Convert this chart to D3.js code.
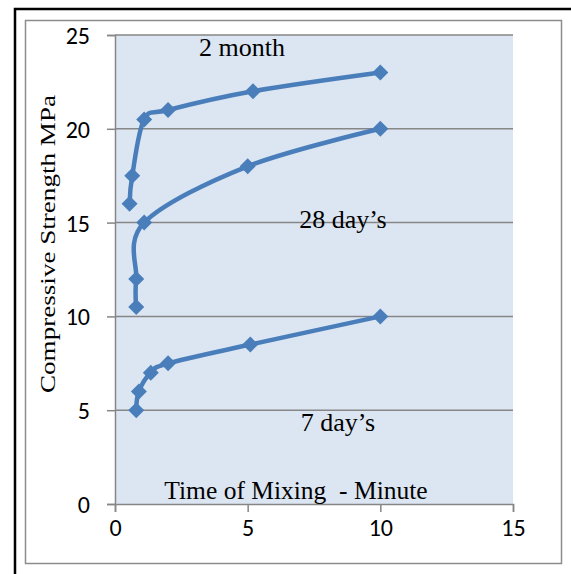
<!DOCTYPE html>
<html>
<head>
<meta charset="utf-8">
<script src="https://cdn.jsdelivr.net/npm/d3@7"></script>
<style>
  body { margin: 0; background: #fff; }
  svg { display: block; }
</style>
</head>
<body>
<script>
(function (d3) {

  'use strict'
  const w = 571
  const h = 574

  // data
  const month2X = [0.55, 0.65, 1.1, 2.0, 5.2, 10]
  const month2Y = [16.0, 17.5, 20.5, 21.0, 22.0, 23.0]
  const day28X = [0.8, 0.8, 1.1, 5.0, 10]
  const day28Y = [10.5, 12.0, 15.0, 18.0, 20.0]
  const day7X = [0.8, 0.9, 1.35, 2.0, 5.1, 10]
  const day7Y = [5.0, 6.0, 7.0, 7.5, 8.5, 10.0]
  const xTicks = [0, 5, 10, 15]
  const yTicks = [0, 5, 10, 15, 20, 25]

  const series = [
    { name: '2 month', x: month2X, y: month2Y },
    { name: '28 day\u2019s', x: day28X, y: day28Y },
    { name: '7 day\u2019s', x: day7X, y: day7Y }
  ]

  const plot = { left: 115, top: 35, right: 513, bottom: 504 }

  const x = d3.scaleLinear().domain([0, 15]).range([plot.left, plot.right])
  const y = d3.scaleLinear().domain([0, 25]).range([plot.bottom, plot.top])

  const svg = d3.select('body').append('svg')
    .attr('width', w)
    .attr('height', h)

  // outer black frame
  svg.append('rect')
    .attr('x', 15).attr('y', 9)
    .attr('width', 600).attr('height', 600)
    .attr('fill', 'none')
    .attr('stroke', '#000')
    .attr('stroke-width', 2.5)

  // chart area border
  svg.append('rect')
    .attr('x', 25.5).attr('y', 20.5)
    .attr('width', 536).attr('height', 543)
    .attr('fill', '#fff')
    .attr('stroke', '#8c8c8c')
    .attr('stroke-width', 1.5)

  svg.append('rect')
    .attr('x', plot.left).attr('y', plot.top)
    .attr('width', plot.right - plot.left)
    .attr('height', plot.bottom - plot.top)
    .attr('fill', '#dce6f2')

  // gridlines
  svg.append('g')
    .selectAll('line')
    .data(yTicks.filter(d => d > 0))
    .enter().append('line')
    .attr('x1', plot.left).attr('x2', plot.right)
    .attr('y1', d => y(d)).attr('y2', d => y(d))
    .attr('stroke', '#868686')
    .attr('stroke-width', 1.5)

  const yAxis = svg.append('g')
    .attr('transform', 'translate(' + plot.left + ',0)')
    .call(d3.axisLeft(y).tickValues(yTicks).tickSize(8).tickPadding(17))
  const xAxis = svg.append('g')
    .attr('transform', 'translate(0,' + plot.bottom + ')')
    .call(d3.axisBottom(x).tickValues(xTicks).tickSize(8).tickPadding(7))

  ;[yAxis, xAxis].forEach(function (a) {
    a.select('.domain').attr('stroke', '#868686').attr('stroke-width', 1.5)
    a.selectAll('.tick line').attr('stroke', '#868686').attr('stroke-width', 1.5)
    a.selectAll('.tick text')
      .attr('fill', '#000')
      .style('font-family', 'Carlito, "Liberation Sans", "DejaVu Sans", sans-serif')
      .style('font-size', '24px')
  })
  yAxis.selectAll('.tick text').attr('dy', '0.35em')

  const line = d3.line()
    .x(d => x(d[0]))
    .y(d => y(d[1]))
    .curve(d3.curveCardinal.tension(0))

  const diamond = d3.symbol().type(d3.symbolSquare).size(128)

  series.forEach(function (s) {
    const pts = s.x.map((v, i) => [v, s.y[i]])
    svg.append('path')
      .datum(pts)
      .attr('d', line)
      .attr('fill', 'none')
      .attr('stroke', '#4a7ebb')
      .attr('stroke-width', 4.5)
      .attr('stroke-linejoin', 'round')
    svg.append('g')
      .selectAll('path')
      .data(pts)
      .enter().append('path')
      .attr('d', diamond)
      .attr('transform', d => 'translate(' + x(d[0]) + ',' + y(d[1]) + ') rotate(45)')
      .attr('fill', '#4a7ebb')
  })

  const serif = '"Liberation Serif", "Times New Roman", serif'

  const labels = [
    { text: '2 month', x: 242, y: 56 },
    { text: '28 day\u2019s', x: 343, y: 228 },
    { text: '7 day\u2019s', x: 338, y: 431 }
  ]
  svg.append('g')
    .selectAll('text')
    .data(labels)
    .enter().append('text')
    .attr('x', d => d.x).attr('y', d => d.y)
    .attr('text-anchor', 'middle')
    .style('font-family', serif)
    .style('font-size', '26px')
    .text(d => d.text)

  svg.append('text')
    .attr('x', 296).attr('y', 499)
    .attr('text-anchor', 'middle')
    .attr('xml:space', 'preserve')
    .style('font-family', serif)
    .style('font-size', '25.5px')
    .style('white-space', 'pre')
    .text('Time of Mixing  - Minute')

  svg.append('text')
    .attr('transform', 'translate(55,244) rotate(-90)')
    .attr('text-anchor', 'middle')
    .attr('textLength', 298)
    .attr('lengthAdjust', 'spacingAndGlyphs')
    .style('font-family', serif)
    .style('font-size', '21px')
    .text('Compressive Strength MPa')

}(d3))
</script>
</body>
</html>
